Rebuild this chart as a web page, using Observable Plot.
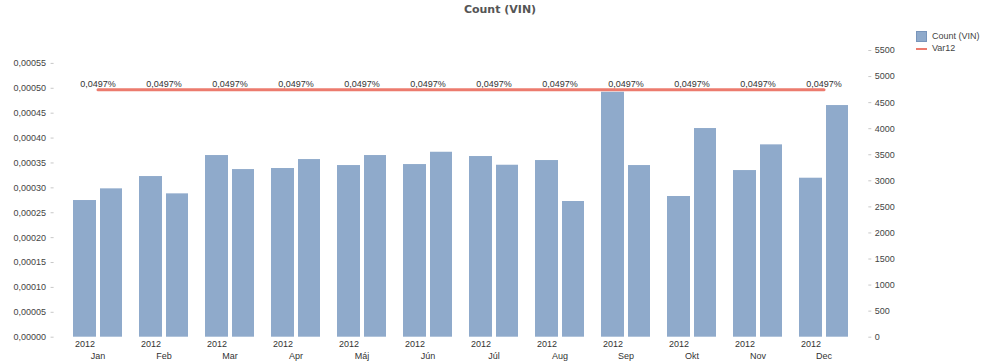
<!DOCTYPE html>
<html>
<head>
<meta charset="utf-8">
<script src="https://cdn.jsdelivr.net/npm/d3@7"></script>
<script src="https://cdn.jsdelivr.net/npm/@observablehq/plot@0.6"></script>
<style>
  html, body { margin: 0; padding: 0; background: #fff; }
  #wrap { position: relative; width: 982px; height: 364px; overflow: hidden; font-family: "Liberation Sans", Arial, sans-serif; }
  #title { position: absolute; top: 3px; left: 500px; transform: translateX(-50%); font-family: "DejaVu Sans", Verdana, sans-serif; font-weight: bold; font-size: 11px; color: #555; white-space: nowrap; }
  .leg { position: absolute; left: 916px; font-size: 9px; color: #444; white-space: nowrap; }
  .sw { display: inline-block; width: 11px; height: 11px; background: #8faacb; border: 1px solid #7895bb; box-sizing: border-box; vertical-align: middle; margin-right: 5px; }
  .ln { display: inline-block; width: 11px; height: 2px; background: #ec7b6e; vertical-align: middle; margin-right: 5px; }
  svg { position: absolute; top: 0; left: 0; }
</style>
</head>
<body>
<div id="wrap">
  <div id="title">Count (VIN)</div>
  <div class="leg" style="top:31px"><span class="sw"></span>Count (VIN)</div>
  <div class="leg" style="top:43px"><span class="ln"></span>Var12</div>
</div>
<script>
const months = ["Jan", "Feb", "Mar", "Apr", "Máj", "Jún", "Júl", "Aug", "Sep", "Okt", "Nov", "Dec"];
const yearLabel = "2012";
const countFirst  = [2622, 3082, 3485, 3236, 3293, 3312, 3466, 3389, 4699, 2699, 3197, 3050];
const countSecond = [2846, 2750, 3216, 3408, 3485, 3548, 3299, 2603, 3293, 4003, 3690, 4444];
const var12 = 0.000497;
const var12Label = "0,0497%";
const leftTicks = [0, 0.00005, 0.0001, 0.00015, 0.0002, 0.00025, 0.0003, 0.00035, 0.0004, 0.00045, 0.0005, 0.00055];
const rightTicks = [0, 500, 1000, 1500, 2000, 2500, 3000, 3500, 4000, 4500, 5000, 5500];

// left (share) axis expressed in count units of the right axis
const shareToCount = 9.55e6;

const data = months.map((m, i) => ({month: m, a: countFirst[i], b: countSecond[i], v: var12 * shareToCount}));

const fmtShare = d => (d / shareToCount).toFixed(5).replace(".", ",");

const chart = Plot.plot({
  width: 982,
  height: 364,
  marginLeft: 53.6,
  marginRight: 114.7,
  marginTop: 50,
  marginBottom: 27.3,
  style: {fontFamily: "Liberation Sans, Arial, sans-serif", fontSize: "9px", color: "#444", background: "transparent"},
  x: {domain: months, padding: 0.262, axis: null},
  y: {domain: [0, 5500], axis: null},
  marks: [
    Plot.barY(data, {x: "month", y: "a", fill: "#8faacb", insetLeft: 0, insetRight: 26}),
    Plot.barY(data, {x: "month", y: "b", fill: "#8faacb", insetLeft: 27, insetRight: 0}),
    Plot.lineY(data, {x: "month", y: "v", stroke: "#ec7b6e", strokeWidth: 3}),
    Plot.text(data, {x: "month", y: "v", text: () => var12Label, dy: -6, fill: "#333", fontSize: 9}),
    Plot.axisY(leftTicks.map(t => t * shareToCount), {anchor: "left", tickFormat: fmtShare, tickSize: 3, tickPadding: 5, stroke: "#c8c8c8", fill: "#444", fontSize: 9}),
    Plot.axisY(rightTicks, {anchor: "right", tickFormat: d3.format("d"), tickSize: 3, tickPadding: 4, stroke: "#c8c8c8", fill: "#444", fontSize: 9}),
    Plot.text(data, {x: "month", y: () => 0, text: () => yearLabel, dx: -13, dy: 7, fill: "#333", fontSize: 9}),
    Plot.text(data, {x: "month", y: () => 0, text: "month", dy: 19, fill: "#333", fontSize: 9})
  ]
});
document.getElementById("wrap").appendChild(chart);
</script>
</body>
</html>
